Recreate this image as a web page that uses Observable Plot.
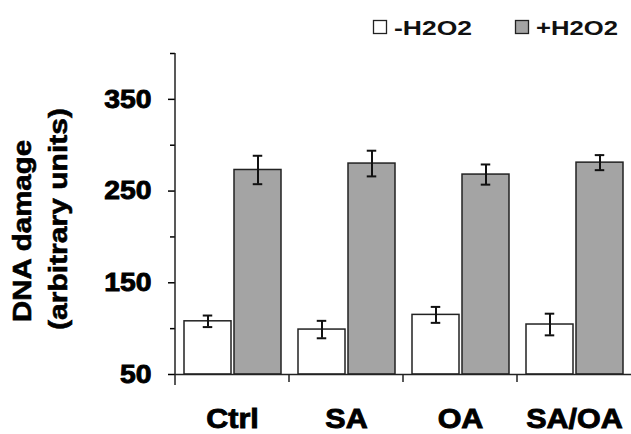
<!DOCTYPE html>
<html><head><meta charset="utf-8">
<script src="https://cdn.jsdelivr.net/npm/d3@7"></script>
<script src="https://cdn.jsdelivr.net/npm/@observablehq/plot@0.6"></script>
<style>
body{margin:0;background:#fff;font-family:"Liberation Sans",Arial,sans-serif;}
svg{display:block}
</style></head><body>
<div id="chart"></div>
<script>
const categories = ["Ctrl","SA","OA","SA/OA"];
const series = ["-H2O2","+H2O2"];
const minusH2O2 = [108, 99, 115, 104.5];
const plusH2O2 = [273, 280, 268, 281];
const minusErr = [6.3, 9.5, 8.7, 11.8];
const plusErr = [15.5, 14, 11, 8.2];
const majorTicks = [50,150,250,350];
const minorTicks = [100,200,300,400];
const yDomain = [50,400];
const seriesColors = ["#ffffff","#a4a4a4"];
const titleLines = ["DNA damage","(arbitrary units)"];

const rows = [];
categories.forEach((c,i)=>{
  rows.push({category:c, series:series[0], value:minusH2O2[i], err:minusErr[i]});
  rows.push({category:c, series:series[1], value:plusH2O2[i], err:plusErr[i]});
});

const W=631, LEG_H=40, H=394;
const font = "Liberation Sans, Arial, sans-serif";

// legend above the chart
const leg = d3.select("#chart").append("svg").attr("width",W).attr("height",LEG_H)
  .style("font-family",font);
const legItems = [{x:373, tx:394, len:78},{x:515, tx:536, len:82}];
series.forEach((s,i)=>{
  const it = legItems[i];
  leg.append("rect").attr("x",it.x+0.5).attr("y",20.5).attr("width",13).attr("height",13)
    .attr("fill",seriesColors[i]).attr("stroke","#222").attr("stroke-width",1.3);
  leg.append("text").attr("x",it.tx).attr("y",34.5).attr("font-size",21).attr("font-weight","bold")
    .attr("textLength",it.len).attr("lengthAdjust","spacingAndGlyphs").attr("fill","#111").text(s);
});

const capInset = 18.75;
const plot = Plot.plot({
  width: W, height: H,
  marginTop: 13, marginBottom: 60, marginLeft: 174, marginRight: 0,
  style: {fontFamily: font, background:"white", color:"black", overflow:"visible"},
  fx: {domain: categories, padding: 0, label: null},
  x: {domain: series, paddingInner: 0.06, paddingOuter: 0.168, axis: null},
  y: {domain: yDomain},
  color: {domain: series, range: seriesColors},
  marks: [
    Plot.barY(rows, {fx:"category", x:"series", y1: yDomain[0], y2:"value", fill:"series", stroke:"#222", strokeWidth:1.5}),
    Plot.ruleX(rows, {fx:"category", x:"series", y1: d=>d.value-d.err, y2: d=>d.value+d.err, stroke:"#111", strokeWidth:2}),
    Plot.tickY(rows, {fx:"category", x:"series", y: d=>d.value+d.err, stroke:"#111", strokeWidth:2, insetLeft:capInset, insetRight:capInset}),
    Plot.tickY(rows, {fx:"category", x:"series", y: d=>d.value-d.err, stroke:"#111", strokeWidth:2, insetLeft:capInset, insetRight:capInset}),
    Plot.ruleY([yDomain[0]], {stroke:"#222", strokeWidth:1.5}),
    Plot.axisY(majorTicks, {tickSize:7, tickPadding:17, fontSize:26, fontWeight:"bold", label:null}),
    Plot.axisY(minorTicks, {tickSize:5, tickFormat: ()=>"", label:null}),
    Plot.axisFx({anchor:"bottom", tickSize:0, tickPadding:34, fontSize:28, fontWeight:"bold", label:null})
  ]
});
document.getElementById("chart").appendChild(plot);

const svg = d3.select(plot);
// heavier, slightly wider axis text
svg.selectAll("text").each(function(){
  const l = this.getComputedTextLength();
  if (l > 0) {
    this.setAttribute("textLength", l*1.09);
    this.setAttribute("lengthAdjust","spacingAndGlyphs");
  }
  this.setAttribute("stroke","black");
  this.setAttribute("stroke-width","0.9");
});
svg.selectAll("line, path").filter(function(){ return this.closest('[aria-label^="y-axis tick"]'); })
  .attr("stroke-width",1.5);

const fx = plot.scale("fx"), y = plot.scale("y");
const y0 = y.apply(yDomain[0]), yTop = y.apply(yDomain[1]);
const xAxis = fx.apply(categories[0]);
// y-axis line (extends a little below the baseline)
svg.append("line").attr("x1",xAxis).attr("x2",xAxis).attr("y1",yTop).attr("y2",y0+11)
  .attr("stroke","#222").attr("stroke-width",1.5);
// category boundary ticks
categories.slice(1).forEach(c=>{
  const xb = fx.apply(c);
  svg.append("line").attr("x1",xb).attr("x2",xb).attr("y1",y0).attr("y2",y0+8)
    .attr("stroke","#222").attr("stroke-width",1.5);
});
// rotated two-line y title
const titlePos = [{x:31, y:191, len:182},{x:66.5, y:179, len:222}];
titleLines.forEach((t,i)=>{
  const p = titlePos[i];
  svg.append("text").attr("transform",`translate(${p.x},${p.y}) rotate(-90)`)
    .attr("text-anchor","middle").attr("font-size",25).attr("font-weight","bold")
    .attr("font-family",font).attr("fill","black").attr("stroke","black").attr("stroke-width",0.6)
    .attr("textLength",p.len).attr("lengthAdjust","spacingAndGlyphs").text(t);
});
</script>
</body></html>
